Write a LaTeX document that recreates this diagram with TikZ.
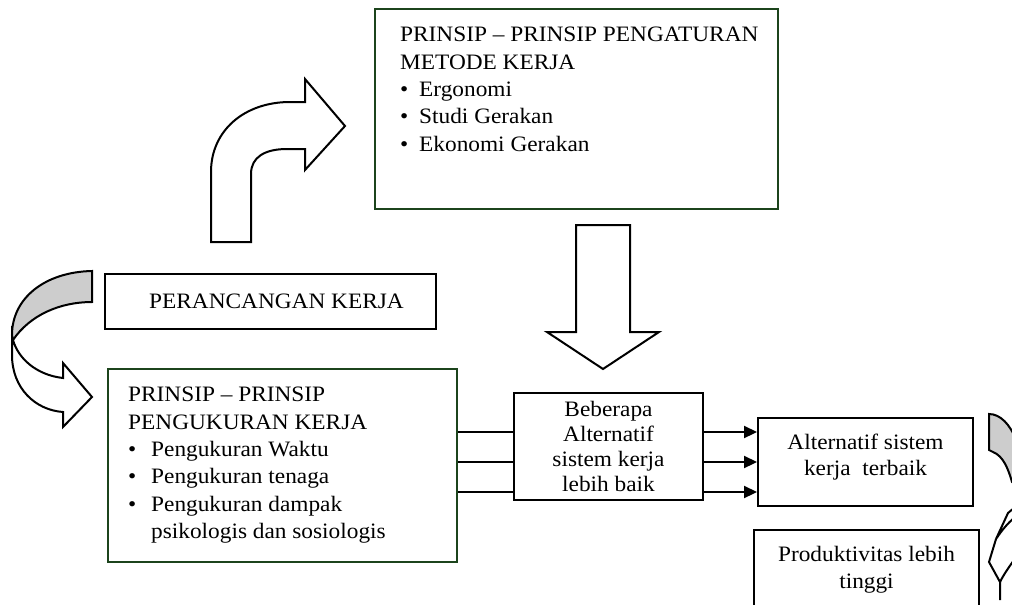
\documentclass[tikz,border=0pt]{standalone}
\usepackage{fontspec}
\setmainfont[FakeStretch=1.06]{Liberation Serif}
\usetikzlibrary{arrows.meta}
\definecolor{dkgreen}{RGB}{28,68,28}
\definecolor{bandgray}{RGB}{205,205,205}
\tikzset{
  gbox/.style={draw=dkgreen, line width=2pt, inner sep=0pt},
  bbox/.style={draw=black, line width=2pt, inner sep=0pt},
  txt/.style={inner sep=0pt, align=left, anchor=north west, font=\fontsize{22}{27.4}\selectfont},
  ctxt/.style={align=center, font=\fontsize{22}{25}\selectfont},
  blockarrow/.style={draw=black, line width=2pt, line join=miter, fill=white},
  link/.style={draw=black, line width=2.2pt},
  tip/.style={-{Triangle[length=13pt,width=12pt]}}
}
\newcommand{\bul}{\makebox[19pt][l]{\textbullet}}
\newcommand{\bulb}{\makebox[23pt][l]{\textbullet}}
\begin{document}
\begin{tikzpicture}[x=1pt,y=-1pt]
\useasboundingbox (0,0) rectangle (1012,605);

% top box
\node[gbox, minimum width=403pt, minimum height=200pt, anchor=north west] (pm) at (374,8) {};
\node[txt] (pmt) at (400,27) {PRINSIP -- PRINSIP PENGATURAN\\METODE KERJA\\\bul Ergonomi\\\bul Studi Gerakan\\\bul Ekonomi Gerakan};

% perancangan kerja
\node[bbox, minimum width=331pt, minimum height=55pt, anchor=north west, font=\fontsize{22}{25}\selectfont] (pr) at (104,273) {\hspace*{12pt}PERANCANGAN KERJA};

% bottom left box
\node[gbox, minimum width=349pt, minimum height=193pt, anchor=north west] (pk) at (107,368) {};
\node[txt] (pkt) at (128,387) {PRINSIP -- PRINSIP\\PENGUKURAN KERJA\\\bulb Pengukuran Waktu\\\bulb Pengukuran tenaga\\\bulb Pengukuran dampak\\\hspace*{23pt}psikologis dan sosiologis};

% middle box
\node[bbox, ctxt, minimum width=189pt, minimum height=107pt, anchor=north west] (alt) at (513,392) {Beberapa\\Alternatif\\sistem kerja\\lebih baik};

% best box
\node[bbox, ctxt, minimum width=215pt, minimum height=88pt, anchor=north west, font=\fontsize{22}{26}\selectfont] (best) at (757,417) {Alternatif sistem\\kerja\ \ terbaik\\[-12pt]};

% productivity box
\node[bbox, ctxt, minimum width=225pt, minimum height=80pt, anchor=north west, font=\fontsize{22}{27}\selectfont] (prod) at (753,529) {Produktivitas lebih\\tinggi};

% connectors
\foreach \yy in {432,462,492}{
  \draw[link] (pk.east |- 0,\yy) -- (alt.west |- 0,\yy);
  \draw[link, tip] (alt.east |- 0,\yy) -- (best.west |- 0,\yy);
}

% curved up-right arrow
\draw[blockarrow] (211,242) -- (211,172) .. controls (211,130) and (245,102) .. (290,102)
  -- (305,102) -- (305,79) -- (345,126) -- (305,170) -- (305,149) -- (287,149)
  .. controls (265,149) and (251,157) .. (251,174) -- (251,242) -- cycle;

% down arrow
\draw[blockarrow] (576,225) -- (630,225) -- (630,332) -- (659,332) -- (603,369)
  -- (547,332) -- (576,332) -- cycle;

% left curved arrow: white part then gray band
\draw[blockarrow] (12,326) -- (12,355) .. controls (12,388) and (35,410) .. (63,412)
  -- (63,427) -- (92,397) -- (63,363) -- (63,378)
  .. controls (36,375) and (18,358) .. (13,340) -- cycle;
\draw[blockarrow, fill=bandgray] (92,271) .. controls (45,272) and (12,298) .. (12,335)
  -- (13,340) .. controls (30,315) and (60,302) .. (92,302) -- cycle;

% right curved arrow (partly outside)
\draw[blockarrow, fill=bandgray] (989,414) .. controls (1000,414) and (1010,424) .. (1016,440)
  -- (1016,485) -- (1012,482) .. controls (1008,468) and (1003,456) .. (993,452)
  -- (989,450) -- cycle;
\draw[line width=2pt, line join=miter] (1014,508) -- (1008,513) -- (996,539)
  .. controls (1002,530) and (1008,523) .. (1014,518);
\draw[line width=2pt, line join=miter] (996,539) -- (989,562) -- (1000,582) -- (1000,600);
\draw[line width=2pt] (1000,582) .. controls (1004,574) and (1009,567) .. (1014,560);
\end{tikzpicture}
\end{document}
